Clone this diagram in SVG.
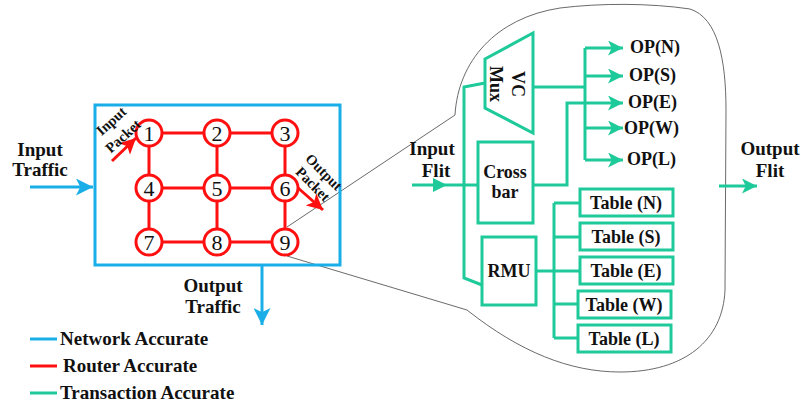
<svg xmlns="http://www.w3.org/2000/svg" width="801" height="406" viewBox="0 0 801 406">
  <defs>
    <style>
      .lbl { font-family: "Liberation Serif", "Times New Roman", serif; font-weight: bold; font-size: 18px; fill: #111; }
      .big { font-family: "Liberation Serif", "Times New Roman", serif; font-weight: bold; font-size: 19px; fill: #111; }
      .sm { font-family: "Liberation Serif", "Times New Roman", serif; font-weight: bold; font-size: 14.5px; fill: #111; }
      .num { font-family: "Liberation Serif", "Times New Roman", serif; font-size: 22px; fill: #111; }
      .blue { stroke: #19aee8; stroke-width: 3; fill: none; }
      .red { stroke: #ff1010; stroke-width: 3; fill: none; }
      .green { stroke: #1ec99a; stroke-width: 3; fill: none; }
      .gbox { stroke: #1ec99a; stroke-width: 3; fill: #fff; }
      .node { stroke: #ff1010; stroke-width: 3; fill: #fff; }
      .zoom { stroke: #444; stroke-width: 0.8; fill: none; }
    </style>
    <marker id="ahBlue" viewBox="0 0 10 10" refX="10" refY="5" markerWidth="17" markerHeight="17" markerUnits="userSpaceOnUse" orient="auto">
      <path d="M0,0 L10,5 L0,10 L2.5,5 z" fill="#19aee8"/>
    </marker>
    <marker id="ahRed" viewBox="0 0 10 10" refX="10" refY="5" markerWidth="16" markerHeight="16" markerUnits="userSpaceOnUse" orient="auto">
      <path d="M0,0 L10,5 L0,10 L2.5,5 z" fill="#ff1010"/>
    </marker>
    <marker id="ahGreen" viewBox="0 0 10 10" refX="10" refY="5" markerWidth="15" markerHeight="15" markerUnits="userSpaceOnUse" orient="auto">
      <path d="M0,0 L10,5 L0,10 L2.5,5 z" fill="#1ec99a"/>
    </marker>
  </defs>
  <rect width="801" height="406" fill="#fff"/>

  <!-- magnified router outline -->
  <g id="zoom-outline">
    <path class="zoom" d="M287,227 L455,115 C458,62 495,18 560,8 C600,3 650,3 690,9 C718,18 726,60 726,110 L725,290 C723,340 685,372 620,372 C570,372 520,352 467,310 L287,256"/>
  </g>

  <!-- network boundary -->
  <g id="network">
    <rect class="blue" x="95" y="105" width="245" height="160"/>
  </g>

  <g id="connectors">
    <!-- mesh links -->
    <g class="red">
      <path d="M149,133 H285 M149,188 H285 M149,242 H285 M149,133 V242 M217,133 V242 M285,133 V242"/>
    </g>
    <!-- traffic in/out -->
    <path class="blue" d="M30,187 H93" marker-end="url(#ahBlue)"/>
    <path class="blue" d="M262,265 V325" marker-end="url(#ahBlue)"/>
    <!-- packets -->
    <path class="red" d="M112,161 L136,138" marker-end="url(#ahRed)"/>
    <path class="red" d="M297,187 L323,210" marker-end="url(#ahRed)"/>
    <!-- router internals -->
    <path class="green" d="M412,185 H478" />
    <path d="M433,178 L447,185 L433,192 z" fill="#1ec99a"/>
    <path class="green" d="M485,83 L464,87 V278 L482,285"/>
    <path class="green" d="M533,87 H585 M585,48 V160"/>
    <path class="green" d="M585,48 H623" marker-end="url(#ahGreen)"/>
    <path class="green" d="M585,76 H623" marker-end="url(#ahGreen)"/>
    <path class="green" d="M585,128 H623" marker-end="url(#ahGreen)"/>
    <path class="green" d="M585,160 H623" marker-end="url(#ahGreen)"/>
    <path class="green" d="M533,185 H567 V103 H623" marker-end="url(#ahGreen)"/>
    <path class="green" d="M536,271 H554 M554,203 V338 M554,203 H580 M554,237 H580 M554,271 H580 M554,304 H578 M554,338 H578"/>
    <path class="green" d="M719,186 H757" marker-end="url(#ahGreen)"/>
  </g>

  <!-- mesh routers -->
  <g id="n1"><circle class="node" cx="149" cy="133" r="13"/><text class="num" x="149" y="141" text-anchor="middle">1</text></g>
  <g id="n2"><circle class="node" cx="217" cy="133" r="13"/><text class="num" x="217" y="141" text-anchor="middle">2</text></g>
  <g id="n3"><circle class="node" cx="285" cy="133" r="13"/><text class="num" x="285" y="141" text-anchor="middle">3</text></g>
  <g id="n4"><circle class="node" cx="149" cy="188" r="13"/><text class="num" x="149" y="196" text-anchor="middle">4</text></g>
  <g id="n5"><circle class="node" cx="217" cy="188" r="13"/><text class="num" x="217" y="196" text-anchor="middle">5</text></g>
  <g id="n6"><circle class="node" cx="285" cy="188" r="13"/><text class="num" x="285" y="196" text-anchor="middle">6</text></g>
  <g id="n7"><circle class="node" cx="149" cy="242" r="13"/><text class="num" x="149" y="250" text-anchor="middle">7</text></g>
  <g id="n8"><circle class="node" cx="217" cy="242" r="13"/><text class="num" x="217" y="250" text-anchor="middle">8</text></g>
  <g id="n9"><circle class="node" cx="285" cy="242" r="13"/><text class="num" x="285" y="250" text-anchor="middle">9</text></g>

  <!-- router blocks -->
  <g id="vc-mux">
    <path class="gbox" d="M485,59 L533,33 V133 L485,108 z"/>
    <g transform="translate(507,84) rotate(90)">
      <text class="lbl" x="0" y="-5" text-anchor="middle">VC</text>
      <text class="lbl" x="0" y="17" text-anchor="middle">Mux</text>
    </g>
  </g>
  <g id="crossbar">
    <rect class="gbox" x="478" y="142" width="55" height="81"/>
    <text class="lbl" x="505" y="178" text-anchor="middle">Cross</text>
    <text class="lbl" x="505" y="198" text-anchor="middle">bar</text>
  </g>
  <g id="rmu">
    <rect class="gbox" x="482" y="237" width="54" height="68"/>
    <text class="lbl" x="509" y="277" text-anchor="middle">RMU</text>
  </g>
  <g id="table-n"><rect class="gbox" x="580" y="189" width="93" height="27"/><text class="lbl" x="626" y="209" text-anchor="middle">Table (N)</text></g>
  <g id="table-s"><rect class="gbox" x="580" y="223" width="93" height="27"/><text class="lbl" x="626" y="243" text-anchor="middle">Table (S)</text></g>
  <g id="table-e"><rect class="gbox" x="580" y="257" width="93" height="27"/><text class="lbl" x="626" y="277" text-anchor="middle">Table (E)</text></g>
  <g id="table-w"><rect class="gbox" x="578" y="291" width="93" height="27"/><text class="lbl" x="624" y="311" text-anchor="middle">Table (W)</text></g>
  <g id="table-l"><rect class="gbox" x="578" y="325" width="93" height="27"/><text class="lbl" x="624" y="345" text-anchor="middle">Table (L)</text></g>

  <!-- port labels -->
  <g id="ports">
    <text class="lbl" x="630" y="53">OP(N)</text>
    <text class="lbl" x="629" y="81">OP(S)</text>
    <text class="lbl" x="628" y="108">OP(E)</text>
    <text class="lbl" x="624" y="134">OP(W)</text>
    <text class="lbl" x="627" y="165">OP(L)</text>
  </g>

  <!-- flow labels -->
  <g id="labels">
    <text class="big" x="40" y="156" text-anchor="middle">Input</text>
    <text class="big" x="40" y="176" text-anchor="middle">Traffic</text>
    <text class="big" x="213" y="292" text-anchor="middle">Output</text>
    <text class="big" x="213" y="313" text-anchor="middle">Traffic</text>
    <text class="big" x="432" y="155" text-anchor="middle">Input</text>
    <text class="big" x="436" y="177" text-anchor="middle">Flit</text>
    <text class="big" x="770" y="155" text-anchor="middle">Output</text>
    <text class="big" x="770" y="177" text-anchor="middle">Flit</text>
    <g transform="translate(111,121) rotate(-42)"><text class="sm" x="0" y="5" text-anchor="middle">Input</text></g>
    <g transform="translate(123,136) rotate(-42)"><text class="sm" x="0" y="5" text-anchor="middle">Packet</text></g>
    <g transform="translate(324,172) rotate(45)"><text class="sm" x="0" y="5" text-anchor="middle">Output</text></g>
    <g transform="translate(313,184) rotate(45)"><text class="sm" x="0" y="5" text-anchor="middle">Packet</text></g>
  </g>

  <!-- legend -->
  <g id="legend">
    <path d="M30,339 H57" stroke="#19aee8" stroke-width="3"/>
    <text class="big" x="60" y="345">Network Accurate</text>
    <path d="M30,366 H57" stroke="#ff1010" stroke-width="3"/>
    <text class="big" x="63" y="372">Router Accurate</text>
    <path d="M30,393 H57" stroke="#1ec99a" stroke-width="3"/>
    <text class="big" x="60" y="399">Transaction Accurate</text>
  </g>
</svg>
